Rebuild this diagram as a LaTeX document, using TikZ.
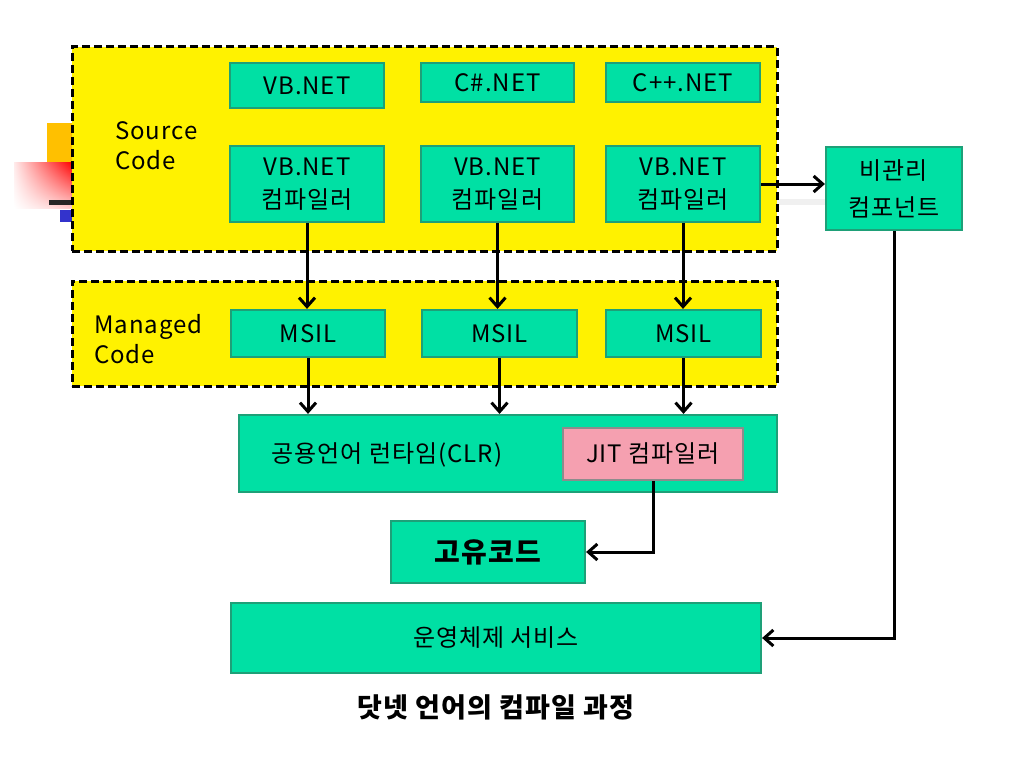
\documentclass[tikz,border=0pt]{standalone}
\usepackage{fontspec}
\setmainfont{Noto Sans CJK KR}[LetterSpace=4]
\usepackage{tikz}
\usetikzlibrary{arrows.meta, 
  positioning, 
  shadings,
  calc
}

\definecolor{boxgruen}{RGB}{0,224,164}
\definecolor{boxrand}{RGB}{30,160,120}
\definecolor{jitrosa}{RGB}{245,160,176}
\definecolor{orangedeko}{RGB}{255,192,0}
\definecolor{blaudeko}{RGB}{51,51,204}

\begin{document}
\begin{tikzpicture}[x=1pt, y=-1pt, every node/.style={align=center, inner sep=0pt, font=\fontsize{24}{33}\selectfont}]

        % Farben und Stile
        \tikzstyle{bereich}=[draw, fill=yellow, line width=3pt, dash pattern=on 8pt off 4pt]
        \tikzstyle{modul}=[draw=boxrand, fill=boxgruen, line width=2.2pt]
        \tikzstyle{jit}=[draw=black!45, fill=jitrosa, line width=2.2pt]
        \tikzstyle{pfeil}=[line width=3pt, -{Straight Barb[length=9pt, width=16pt]}]

        \useasboundingbox (0,0) rectangle (1024,768);

        % Folienschmuck links
        \fill[black!6] (72,199) rectangle (826,205);
        \fill[orangedeko] (47,123) rectangle (72,163);
        \shade[upper right=red, upper left=red!8, lower right=red!20, lower left=white] (14,162) rectangle (72,208);
        \fill[black!85] (49,200) rectangle (72,205);
        \fill[blaudeko] (60,210) rectangle (72,222);

        % Bereiche
        \node[bereich, minimum width=705pt, minimum height=204pt] (quelle) at (424.5,149) {};
        \node[bereich, minimum width=705pt, minimum height=105pt] (verwaltet) at (424.5,333.5) {};
        \node[anchor=west, align=left, font=\fontsize{24}{30}\selectfont] (quelletxt) at (115,146) {Source\\Code};
        \node[anchor=west, align=left, font=\fontsize{24}{30}\selectfont] (verwaltettxt) at (94,339) {Managed\\Code};

        % Sprachen
        \node[modul, minimum width=154pt, minimum height=45pt] (vb) at (307,85.5) {VB.NET};
        \node[modul, minimum width=153pt, minimum height=39pt] (cs) at (497.5,82.5) {C\#.NET};
        \node[modul, minimum width=154pt, minimum height=39pt] (cpp) at (683,82.5) {C++.NET};

        % Compiler
        \node[modul, minimum width=154pt, minimum height=76pt] (comp1) at (307,184) {VB.NET\\컴파일러};
        \node[modul, minimum width=153pt, minimum height=76pt] (comp2) at (497.5,184) {VB.NET\\컴파일러};
        \node[modul, minimum width=154pt, minimum height=76pt] (comp3) at (683,184) {VB.NET\\컴파일러};
        \node[modul, minimum width=136pt, minimum height=83pt, font=\fontsize{24}{37}\selectfont] (unman) at (894,188.5) {비관리\\컴포넌트};

        % MSIL
        \node[modul, minimum width=154pt, minimum height=47pt] (msil1) at (308,333.5) {MSIL};
        \node[modul, minimum width=155pt, minimum height=47pt] (msil2) at (499.5,333.5) {MSIL};
        \node[modul, minimum width=155pt, minimum height=47pt] (msil3) at (683.5,333.5) {MSIL};

        % CLR und darunter
        \node[modul, minimum width=538pt, minimum height=77pt] (clr) at (508,453.5) {};
        \node (clrtxt) at (387,455) {공용언어 런타임(CLR)};
        \node[jit, minimum width=180pt, minimum height=52pt] (jitc) at (653,454) {JIT 컴파일러};
        \node[modul, minimum width=194pt, minimum height=62pt, font=\fontsize{28}{32}\selectfont\bfseries] (nativ) at (488,552) {고유코드};
        \node[modul, minimum width=530pt, minimum height=70pt] (bs) at (496,638) {운영체제 서비스};

        % Beschriftung
        \node[font=\fontsize{27}{30}\selectfont\bfseries] (titel) at (496,707) {닷넷 언어의 컴파일 과정};

        % Verbindungen
        \draw[pfeil] (comp1.south) -- (comp1.south |- msil1.north);
        \draw[pfeil] (comp2.south) -- (comp2.south |- msil2.north);
        \draw[pfeil] (comp3.south) -- (comp3.south |- msil3.north);
        \draw[pfeil] (msil1.south) -- (msil1.south |- clr.north);
        \draw[pfeil] (msil2.south) -- (msil2.south |- clr.north);
        \draw[pfeil] (msil3.south) -- (msil3.south |- clr.north);
        \draw[pfeil] (comp3.east) -- (comp3.east -| unman.west);
        \draw[pfeil] (jitc.south) |- (nativ.east);
        \draw[pfeil] (unman.south) |- (bs.east);
        \end{tikzpicture}
\end{document}
